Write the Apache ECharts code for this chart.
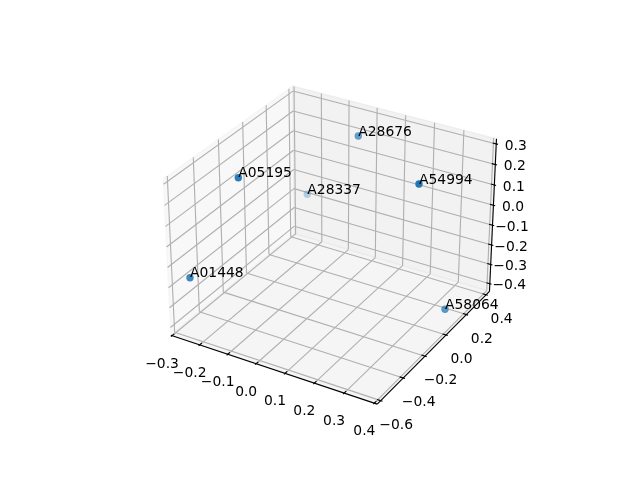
<!DOCTYPE html>
<html><head><meta charset="utf-8"><style>html,body{margin:0;padding:0;background:#fff}#c{width:640px;height:480px}</style>
<script src="https://cdn.jsdelivr.net/npm/echarts@6/dist/echarts.min.js"></script></head><body><div id="c"></div>
<script>
const xLim=[-0.3045,0.4095], yLim=[-0.63,0.435], zLim=[-0.44,0.325];
const xTicks=[-0.3,-0.2,-0.1,0,0.1,0.2,0.3,0.4];
const yTicks=[-0.6,-0.4,-0.2,0,0.2,0.4];
const zTicks=[-0.4,-0.3,-0.2,-0.1,0,0.1,0.2,0.3];
const names=['A01448','A05195','A28337','A28676','A54994','A58064'];
const xValues=[-0.2510,-0.1677,-0.2109,0.0142,0.3079,0.3878];
const yValues=[-0.5755,-0.3553,0.3293,0.2249,-0.0082,0.0455];
const zValues=[-0.1540,0.2617,-0.1448,0.2801,0.2634,-0.3427];
const pts=names.map((_,i)=>[xValues[i],yValues[i],zValues[i]]);
const f=1.8294640721620434*25/24/Math.sqrt(41);
const box=[4*f,4*f,3*f];
const el=30*Math.PI/180, az=-59.5*Math.PI/180, dist=10;
const w=[Math.cos(el)*Math.cos(az),Math.cos(el)*Math.sin(az),Math.sin(el)];
function cross(a,b){return [a[1]*b[2]-a[2]*b[1],a[2]*b[0]-a[0]*b[2],a[0]*b[1]-a[1]*b[0]];}
function dot(a,b){return a[0]*b[0]+a[1]*b[1]+a[2]*b[2];}
function nrm(a){const n=Math.sqrt(dot(a,a));return a.map(v=>v/n);}
const u=nrm(cross([0,0,1],w)), v=cross(w,u);
const L=143.2,S=369.6,T=57.6;
function project(p){
  const pr=[(p[0]-xLim[0])/(xLim[1]-xLim[0])*box[0]-box[0]/2,(p[1]-yLim[0])/(yLim[1]-yLim[0])*box[1]-box[1]/2,(p[2]-zLim[0])/(zLim[1]-zLim[0])*box[2]-box[2]/2];
  const d=dot(w,pr), q=dist-d, xp=dot(u,pr)/q, yp=dot(v,pr)/q;
  return {x:L+(xp+0.095)/0.185*S, y:T+(0.09-yp)/0.185*S, d};
}
const panes=[
 [[xLim[0],yLim[0],zLim[0]],[xLim[0],yLim[1],zLim[0]],[xLim[0],yLim[1],zLim[1]],[xLim[0],yLim[0],zLim[1]],'rgba(242,242,242,.5)'],
 [[xLim[0],yLim[1],zLim[0]],[xLim[1],yLim[1],zLim[0]],[xLim[1],yLim[1],zLim[1]],[xLim[0],yLim[1],zLim[1]],'rgba(230,230,230,.5)'],
 [[xLim[0],yLim[0],zLim[0]],[xLim[1],yLim[0],zLim[0]],[xLim[1],yLim[1],zLim[0]],[xLim[0],yLim[1],zLim[0]],'rgba(236,236,236,.5)']
];
const segs=[];
const G='#b0b0b0',K='#000';
xTicks.forEach(t=>{segs.push([[t,yLim[0],zLim[0]],[t,yLim[1],zLim[0]],G]);segs.push([[t,yLim[1],zLim[0]],[t,yLim[1],zLim[1]],G]);});
yTicks.forEach(t=>{segs.push([[xLim[1],t,zLim[0]],[xLim[0],t,zLim[0]],G]);segs.push([[xLim[0],t,zLim[0]],[xLim[0],t,zLim[1]],G]);});
zTicks.forEach(t=>{segs.push([[xLim[0],yLim[0],t],[xLim[0],yLim[1],t],G]);segs.push([[xLim[0],yLim[1],t],[xLim[1],yLim[1],t],G]);});
segs.push([[xLim[0],yLim[0],zLim[0]],[xLim[1],yLim[0],zLim[0]],K]);
segs.push([[xLim[1],yLim[0],zLim[0]],[xLim[1],yLim[1],zLim[0]],K]);
segs.push([[xLim[1],yLim[1],zLim[0]],[xLim[1],yLim[1],zLim[1]],K]);
const dx=(xLim[1]-xLim[0])/12,dy=(yLim[1]-yLim[0])/12;
xTicks.forEach(t=>segs.push([[t,yLim[0]-.1*dy,zLim[0]],[t,yLim[0]+.2*dy,zLim[0]],K]));
yTicks.forEach(t=>segs.push([[xLim[1]+.1*dx,t,zLim[0]],[xLim[1]-.2*dx,t,zLim[0]],K]));
zTicks.forEach(t=>segs.push([[xLim[1]+.1*dx,yLim[1],t],[xLim[1]-.2*dx,yLim[1],t],K]));
const labs=[];
const tf=t=>(t<0?'\u2212':'')+Math.abs(t).toFixed(1);
xTicks.forEach(t=>{const p=project([t,yLim[0],zLim[0]]);labs.push([p.x-10,p.y+28.5,tf(t)]);});
yTicks.forEach(t=>{const p=project([xLim[1],t,zLim[0]]);labs.push([p.x+15.5,p.y+24.5,tf(t)]);});
zTicks.forEach(t=>{const p=project([xLim[1],yLim[1],t]);labs.push([p.x+19.5,p.y+2,tf(t)]);});
const FONT='13.89px "DejaVu Sans"';
const chart=echarts.init(document.getElementById('c'));
const toXY=p=>{const r=project(p);return [r.x,r.y];};
const ds=pts.map(p=>project(p).d), dMin=Math.min(...ds), dMax=Math.max(...ds);
const alpha=d=>1-0.7*(dMax-d)/(dMax-dMin);
chart.setOption({animation:false,
 grid:{left:0,right:0,top:0,bottom:0},
 xAxis:{type:'value',min:0,max:640,show:false},
 yAxis:{type:'value',min:0,max:480,inverse:true,show:false},
 series:[
  {type:'custom',silent:true,z:1,clip:false,coordinateSystem:'cartesian2d',data:panes.map((_,i)=>[i,0]),encode:{x:0,y:1},
   renderItem:(pm,api)=>{const P=panes[api.value(0)];const pp=P.slice(0,4).map(q=>api.coord(toXY(q)));
     return {type:'polygon',shape:{points:pp},style:{fill:P[4],stroke:P[4],lineWidth:1.4}};}},
  {type:'custom',silent:true,z:2,clip:false,coordinateSystem:'cartesian2d',data:segs.map((_,i)=>[i,0]),encode:{x:0,y:1},
   renderItem:(pm,api)=>{const s=segs[api.value(0)];const a=api.coord(toXY(s[0])),b=api.coord(toXY(s[1]));
     return {type:'line',shape:{x1:a[0],y1:a[1],x2:b[0],y2:b[1]},style:{stroke:s[2],lineWidth:1.11}};}},
  {type:'custom',silent:true,z:3,clip:false,coordinateSystem:'cartesian2d',data:labs.map((_,i)=>[i,0]),encode:{x:0,y:1},
   renderItem:(pm,api)=>{const l=labs[api.value(0)];const a=api.coord([l[0],l[1]]);
     return {type:'text',style:{text:l[2],x:a[0],y:a[1],align:'center',verticalAlign:'middle',font:FONT,fill:'#000'}};}},
  {type:'scatter',z:4,silent:true,symbol:'circle',symbolSize:7.4,
   data:pts.map(p=>{const r=project(p);return {value:[r.x,r.y],itemStyle:{color:'#1f77b4',opacity:alpha(r.d)}};})},
  {type:'custom',silent:true,z:5,clip:false,coordinateSystem:'cartesian2d',data:pts.map((_,i)=>[i,0]),encode:{x:0,y:1},
   renderItem:(pm,api)=>{const i=api.value(0);const a=api.coord(toXY(pts[i]));
     return {type:'text',style:{text:names[i],x:a[0],y:a[1]+3,align:'left',verticalAlign:'bottom',font:FONT,fill:'#000'}};}}
 ]});
</script></body></html>
